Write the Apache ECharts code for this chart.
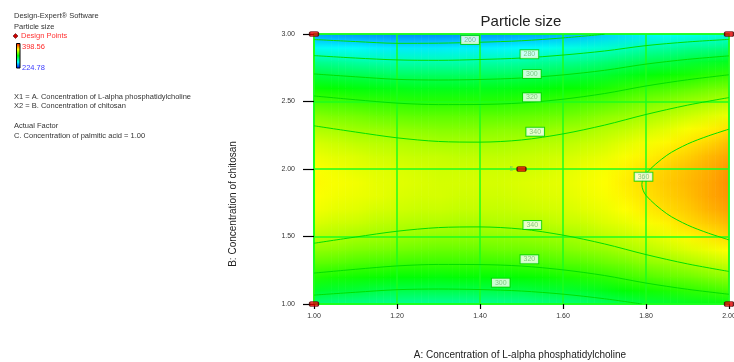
<!DOCTYPE html>
<html><head><meta charset="utf-8">
<script src="https://cdn.jsdelivr.net/npm/echarts@6/dist/echarts.min.js"></script>
<style>html,body{margin:0;padding:0;background:#fff}#c{width:734px;height:362px}</style>
</head><body><div id="c"></div>
<script>
// A: Concentration of L-alpha phosphatidylcholine (columns)
const aValues = [1.00,1.05,1.10,1.15,1.20,1.25,1.30,1.35,1.40,1.45,1.50,1.55,1.60,1.65,1.70,1.75,1.80,1.85,1.90,1.95,2.00];
// B: Concentration of chitosan (rows)
const bValues = [1.0,1.1,1.2,1.3,1.4,1.5,1.6,1.7,1.8,1.9,2.0,2.1,2.2,2.3,2.4,2.5,2.6,2.7,2.8,2.9,3.0];
// Particle size read from the surface, one row per B value
const surface = [
 [291,289,288,287,286,285,285,285,286,286,287,289,290,292,295,298,301,303,306,308,310],
 [305,303,302,300,299,299,299,299,299,300,300,302,303,305,308,311,314,316,319,321,324],
 [317,315,314,313,311,311,310,311,311,311,312,313,315,317,319,322,325,328,330,333,336],
 [327,326,324,323,322,321,321,321,321,321,322,323,325,326,329,331,335,337,340,343,346],
 [336,335,333,332,331,330,329,329,329,330,330,331,333,335,337,340,343,346,349,352,355],
 [343,342,340,339,338,337,336,336,336,336,337,338,339,341,344,346,349,352,356,359,362],
 [349,347,346,344,343,342,342,341,341,342,342,343,345,346,349,351,354,357,361,364,367],
 [353,351,350,348,347,346,346,345,345,345,346,347,348,350,352,355,358,361,364,368,371],
 [355,353,352,351,349,348,348,347,347,347,348,349,350,352,354,357,360,363,366,370,373],
 [356,354,353,351,350,349,348,348,348,348,349,350,351,353,355,358,361,364,367,370,374],
 [355,353,351,350,349,348,347,347,347,347,347,348,350,352,354,357,360,363,366,369,373],
 [352,350,349,347,346,345,345,344,344,344,345,346,347,349,351,354,357,360,363,367,370],
 [348,346,344,343,342,341,340,340,340,340,341,342,343,345,347,350,353,356,359,362,366],
 [341,340,338,337,336,335,334,334,334,335,335,336,338,339,342,344,347,350,354,357,360],
 [334,332,331,329,328,327,327,327,327,327,328,329,330,332,335,337,340,343,346,349,352],
 [324,323,321,320,319,318,318,318,318,318,319,320,322,324,326,329,332,335,338,340,343],
 [313,312,310,309,308,307,307,307,307,308,309,310,312,313,316,319,322,324,327,330,332],
 [301,299,298,297,295,295,295,295,295,296,297,298,300,302,304,307,310,313,315,318,320],
 [286,285,283,282,281,281,281,281,282,282,283,285,286,288,291,294,297,299,302,304,306],
 [270,269,268,266,265,265,265,266,266,267,268,270,272,274,276,279,282,284,287,288,290],
 [253,251,250,249,248,248,248,249,250,250,252,253,255,257,260,263,266,268,270,272,273]
];
const colorMin = 224.78;
const colorMax = 398.56;

// design points
const designA = [1.00, 1.00, 2.00, 2.00, 1.50];
const designB = [1.00, 3.00, 1.00, 3.00, 2.00];
const designReps = [1, 1, 1, 1, 5];

// contour lines [A, B]
const contour260 = [[1.0,2.959],[1.1,2.944],[1.2,2.931],[1.3,2.932],[1.4,2.939],[1.5,2.950],[1.6,2.971],[1.7,2.998]];
const contour280 = [[1.0,2.840],[1.1,2.822],[1.2,2.808],[1.3,2.805],[1.4,2.811],[1.5,2.822],[1.6,2.844],[1.7,2.874],[1.8,2.914],[1.9,2.941],[2.0,2.960]];
const contour300Top = [[1.0,2.704],[1.1,2.683],[1.2,2.664],[1.3,2.659],[1.4,2.663],[1.5,2.674],[1.6,2.697],[1.7,2.731],[1.8,2.777],[1.9,2.812],[2.0,2.838]];
const contour320Top = [[1.0,2.541],[1.1,2.513],[1.2,2.488],[1.3,2.477],[1.4,2.478],[1.5,2.489],[1.6,2.517],[1.7,2.559],[1.8,2.615],[1.9,2.661],[2.0,2.698]];
const contour340Top = [[1.0,2.320],[1.1,2.274],[1.2,2.231],[1.3,2.204],[1.4,2.199],[1.5,2.215],[1.6,2.260],[1.7,2.325],[1.8,2.404],[1.9,2.473],[2.0,2.529]];
const contour360 = [[2.0,2.295],[1.95,2.245],[1.9,2.185],[1.85,2.101],[1.8,1.966],[1.79,1.885],[1.8,1.804],[1.85,1.669],[1.9,1.585],[1.95,1.525],[2.0,1.475]];
const contour340Low = [[1.0,1.450],[1.1,1.496],[1.2,1.539],[1.3,1.566],[1.4,1.571],[1.5,1.555],[1.6,1.510],[1.7,1.445],[1.8,1.366],[1.9,1.297],[2.0,1.241]];
const contour320Low = [[1.0,1.229],[1.1,1.257],[1.2,1.282],[1.3,1.293],[1.4,1.292],[1.5,1.281],[1.6,1.253],[1.7,1.211],[1.8,1.155],[1.9,1.109],[2.0,1.072]];
const contour300Low = [[1.0,1.066],[1.1,1.087],[1.2,1.106],[1.3,1.111],[1.4,1.107],[1.5,1.096],[1.6,1.073],[1.7,1.039],[1.79,1.0]];
// contour labels [A, B, level]
const contourLabels = [[1.376,2.956,260],[1.519,2.850,280],[1.525,2.704,300],[1.525,2.531,320],[1.533,2.276,340],[1.794,1.943,360],[1.526,1.585,340],[1.519,1.331,320],[1.450,1.158,300]];

const FONT = '"Liberation Sans", Arial, sans-serif';
const GRID_GREEN = '#1cff1c';
const LINE_GREEN = '#00e000';

const stops = [[0,[0,0,255]],[0.25,[0,255,255]],[0.5,[0,255,0]],[0.75,[255,255,0]],[1,[255,0,0]]];
function rgbOf(v){
  let t = (v - colorMin) / (colorMax - colorMin);
  t = Math.max(0, Math.min(1, t));
  for (let k = 1; k < stops.length; k++) {
    if (t <= stops[k][0]) {
      const f = (t - stops[k-1][0]) / (stops[k][0] - stops[k-1][0]);
      const c0 = stops[k-1][1], c1 = stops[k][1];
      return c0.map((x, n) => x + (c1[n] - x) * f);
    }
  }
  return [255, 0, 0];
}
function mix(c0, c1, f){
  return 'rgb(' + c0.map((x, n) => Math.round(x + (c1[n] - x) * f)).join(',') + ')';
}

// one cell per pair of neighbouring grid nodes
const cells = [];
for (let j = 0; j < aValues.length - 1; j++) {
  for (let i = 0; i < bValues.length - 1; i++) {
    cells.push([aValues[j], bValues[i], j, i]);
  }
}
const STRIPS = 6;
function renderCell(params, api){
  const j = api.value(2), i = api.value(3);
  const pTL = api.coord([aValues[j], bValues[i+1]]);
  const pBR = api.coord([aValues[j+1], bValues[i]]);
  const cTL = rgbOf(surface[i+1][j]), cTR = rgbOf(surface[i+1][j+1]);
  const cBL = rgbOf(surface[i][j]), cBR = rgbOf(surface[i][j+1]);
  const w = (pBR[0] - pTL[0]) / STRIPS;
  const h = pBR[1] - pTL[1];
  const children = [];
  for (let s = 0; s < STRIPS; s++) {
    const f = (s + 0.5) / STRIPS;
    children.push({
      type: 'rect',
      shape: {x: pTL[0] + s * w, y: pTL[1], width: w + 0.6, height: h + 0.6},
      style: {fill: new echarts.graphic.LinearGradient(0, 0, 0, 1, [
        {offset: 0, color: mix(cTL, cTR, f)},
        {offset: 1, color: mix(cBL, cBR, f)}
      ])}
    });
  }
  return {type: 'group', children: children};
}

function contourSeries(data){
  return {type: 'line', data: data, z: 4, smooth: 0.3, showSymbol: false, symbol: 'none',
    lineStyle: {color: LINE_GREEN, width: 1}, silent: true, animation: false, clip: true};
}

const chart = echarts.init(document.getElementById('c'), null, {renderer: 'canvas'});
const textColor = '#333';
chart.setOption({
  animation: false,
  backgroundColor: '#fff',
  grid: {left: 314, top: 34, width: 415, height: 270, show: true, z: 3,
         outerBoundsMode: 'none', containLabel: false,
         borderColor: GRID_GREEN, borderWidth: 1.5, backgroundColor: 'transparent'},
  xAxis: {type: 'value', min: 1, max: 2, interval: 0.2, z: 3,
    axisLine: {show: true, lineStyle: {color: GRID_GREEN, width: 1.5}},
    axisTick: {show: true, length: 5, lineStyle: {color: '#000', width: 1.2}},
    axisLabel: {formatter: v => v.toFixed(2), fontSize: 7, color: textColor, fontFamily: FONT, margin: 9, showMaxLabel: true, showMinLabel: true, hideOverlap: false},
    splitLine: {show: true, lineStyle: {color: GRID_GREEN, width: 1.5}}},
  yAxis: {type: 'value', min: 1, max: 3, interval: 0.5, z: 3,
    axisLine: {show: true, lineStyle: {color: GRID_GREEN, width: 1.5}},
    axisTick: {show: true, length: 11, lineStyle: {color: '#000', width: 1.2}},
    axisLabel: {formatter: v => v.toFixed(2), fontSize: 7, color: textColor, fontFamily: FONT, margin: 19},
    splitLine: {show: true, lineStyle: {color: GRID_GREEN, width: 1.5}}},
  series: [
    {type: 'custom', data: cells, renderItem: renderCell, z: 1, clip: true, silent: true,
     encode: {x: 0, y: 1}},
    contourSeries(contour260),
    contourSeries(contour280),
    contourSeries(contour300Top),
    contourSeries(contour320Top),
    contourSeries(contour340Top),
    contourSeries(contour360),
    contourSeries(contour340Low),
    contourSeries(contour320Low),
    contourSeries(contour300Low),
    {type: 'scatter', data: contourLabels, z: 6, symbolSize: 0, silent: true,
     label: {show: true, position: 'inside', formatter: p => String(p.value[2]),
       fontSize: 7, fontFamily: FONT, color: '#6fb86f', backgroundColor: '#fff',
       borderColor: '#00d000', borderWidth: 1, padding: [1, 3, 0, 3]}},
    {type: 'scatter', z: 8, clip: false, silent: true,
     data: designA.map((a, k) => [a, designB[k], designReps[k]]),
     symbol: 'roundRect', symbolSize: [9, 5],
     itemStyle: {color: '#e00000', borderColor: '#3a0000', borderWidth: 1},
     label: {show: true, position: 'left', distance: 3, fontSize: 7, fontFamily: FONT, color: '#66c866',
       formatter: p => p.value[2] > 1 ? String(p.value[2]) : ''}}
  ],
  graphic: [
    {type: 'text', x: 521, y: 22, style: {text: 'Particle size', fill: '#222', fontSize: 15, fontFamily: FONT, textAlign: 'center', textVerticalAlign: 'middle'}},
    {type: 'text', x: 520, y: 355, style: {text: 'A: Concentration of L-alpha phosphatidylcholine', fill: '#222', fontSize: 10, fontFamily: FONT, textAlign: 'center', textVerticalAlign: 'middle'}},
    {type: 'text', x: 233, y: 204, rotation: Math.PI / 2, style: {text: 'B: Concentration of chitosan', fill: '#222', fontSize: 10, fontFamily: FONT, textAlign: 'center', textVerticalAlign: 'middle'}},
    {type: 'text', x: 14, y: 16, style: {text: 'Design-Expert® Software', fill: textColor, fontSize: 7.5, fontFamily: FONT, textVerticalAlign: 'middle'}},
    {type: 'text', x: 14, y: 27, style: {text: 'Particle size', fill: textColor, fontSize: 7.5, fontFamily: FONT, textVerticalAlign: 'middle'}},
    {type: 'polygon', shape: {points: [[15.5,33.5],[18,36],[15.5,38.5],[13,36]]}, style: {fill: '#cc0000', stroke: '#330000', lineWidth: 0.5}},
    {type: 'text', x: 21, y: 36, style: {text: 'Design Points', fill: '#ff3333', fontSize: 7.5, fontFamily: FONT, textVerticalAlign: 'middle'}},
    {type: 'rect', shape: {x: 16.5, y: 43.5, width: 3.5, height: 24.5},
     style: {fill: new echarts.graphic.LinearGradient(0, 0, 0, 1, [
       {offset: 0, color: '#ff0000'}, {offset: 0.25, color: '#ffff00'}, {offset: 0.5, color: '#00ff00'},
       {offset: 0.75, color: '#00ffff'}, {offset: 1, color: '#0000ff'}]), stroke: '#000', lineWidth: 1}},
    {type: 'text', x: 22, y: 46.5, style: {text: '398.56', fill: '#ff2a2a', fontSize: 7.5, fontFamily: FONT, textVerticalAlign: 'middle'}},
    {type: 'text', x: 22, y: 67.5, style: {text: '224.78', fill: '#3a3aff', fontSize: 7.5, fontFamily: FONT, textVerticalAlign: 'middle'}},
    {type: 'text', x: 14, y: 97, style: {text: 'X1 = A. Concentration of L-alpha phosphatidylcholine', fill: textColor, fontSize: 7.5, fontFamily: FONT, textVerticalAlign: 'middle'}},
    {type: 'text', x: 14, y: 106, style: {text: 'X2 = B. Concentration of chitosan', fill: textColor, fontSize: 7.5, fontFamily: FONT, textVerticalAlign: 'middle'}},
    {type: 'text', x: 14, y: 126, style: {text: 'Actual Factor', fill: textColor, fontSize: 7.5, fontFamily: FONT, textVerticalAlign: 'middle'}},
    {type: 'text', x: 14, y: 136, style: {text: 'C. Concentration of palmitic acid = 1.00', fill: textColor, fontSize: 7.5, fontFamily: FONT, textVerticalAlign: 'middle'}}
  ]
});
</script>
</body></html>
